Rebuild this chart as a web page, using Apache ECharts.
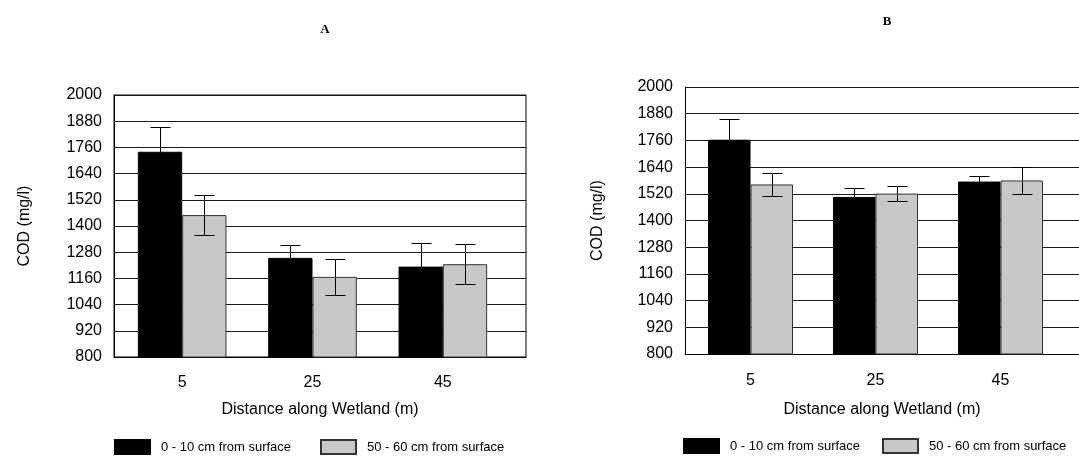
<!DOCTYPE html>
<html>
<head>
<meta charset="utf-8">
<script src="https://cdn.jsdelivr.net/npm/echarts@6/dist/echarts.min.js"></script>
<style>
html,body{margin:0;padding:0;background:#fff;}
#chart{width:1079px;height:458px;}
</style>
</head>
<body>
<div id="chart"></div>
<script>
const categories = ['5', '25', '45'];
const seriesNames = ['0 - 10 cm from surface', '50 - 60 cm from surface'];
const yTicks = { min: 800, max: 2000, interval: 120 };
// Panel A
const aTop = [1740, 1254, 1214];
const aTopErr = [115, 58, 109];
const aDeep = [1450, 1167, 1225];
const aDeepErr = [90, 81, 92];
// Panel B
const bTop = [1763, 1506, 1575];
const bTopErr = [93, 41, 26];
const bDeep = [1562, 1521, 1580];
const bDeepErr = [52, 32, 61];

const FONT = "'Liberation Sans', Arial, sans-serif";
const GAP = 0.32;

function errData(vals, errs) {
  return vals.map((v, i) => [i, v, errs[i]]);
}
function errRender(side) {
  return function (params, api) {
    const idx = api.value(0), val = api.value(1), err = api.value(2);
    const c = api.coord([idx, val]);
    const catW = api.size([1, 0])[0];
    const bw = catW * (1 - GAP) / 2;
    const x = Math.round(c[0] + side * bw / 2) + 0.5;
    const yt = Math.round(api.coord([idx, val + err])[1]) + 0.5;
    const yb = Math.round(api.coord([idx, val - err])[1]) + 0.5;
    const h = 10;
    const st = { stroke: '#000', lineWidth: 1 };
    return {
      type: 'group',
      children: [
        { type: 'line', shape: { x1: x, y1: yt, x2: x, y2: yb }, style: st },
        { type: 'line', shape: { x1: x - h, y1: yt, x2: x + h, y2: yt }, style: st },
        { type: 'line', shape: { x1: x - h, y1: yb, x2: x + h, y2: yb }, style: st }
      ]
    };
  };
}

const frameY = (show) => ({
  type: 'value', min: yTicks.min, max: yTicks.max, interval: yTicks.interval,
  axisLine: { show: show, lineStyle: { color: '#000', width: 1 } },
  axisTick: { show: false },
  axisLabel: { show: show, color: '#000', fontSize: 16, fontFamily: FONT, margin: 12, formatter: v => String(v) },
  splitLine: { show: show, lineStyle: { color: '#1a1a1a', width: 1 } }
});

const blackStyle = { color: '#000', borderColor: '#000', borderWidth: 1 };
const grayStyle = { color: '#c8c8c8', borderColor: '#333', borderWidth: 1 };

const chart = echarts.init(document.getElementById('chart'), null, { renderer: 'canvas' });
chart.setOption({
  backgroundColor: '#fff',
  animation: false,
  title: [
    { text: 'A', left: 320, top: 18, textAlign: 'center', textStyle: { fontFamily: "'Liberation Serif', 'Times New Roman', serif", fontWeight: 'bold', fontSize: 13, color: '#000' } },
    { text: 'B', left: 882, top: 10, textAlign: 'center', textStyle: { fontFamily: "'Liberation Serif', 'Times New Roman', serif", fontWeight: 'bold', fontSize: 13, color: '#000' } }
  ],
  legend: [
    { data: [seriesNames[0]], left: 114, top: 439 },
    { data: [seriesNames[1]], left: 320, top: 439 },
    { data: [seriesNames[0]], left: 683, top: 438 },
    { data: [seriesNames[1]], left: 882, top: 438 }
  ].map(l => Object.assign({
    padding: 0, itemWidth: 35, itemHeight: 14, icon: 'rect', selectedMode: false,
    textStyle: { fontSize: 13, fontFamily: FONT, color: '#000', padding: [0, 0, 0, 6] }
  }, l)),
  grid: [
    { left: 114, top: 95, width: 412, height: 262, show: true, borderColor: '#000', borderWidth: 1, backgroundColor: 'transparent' },
    { left: 117, top: 95, width: 391, height: 262 },
    { left: 685, top: 87, width: 394, height: 267 },
    { left: 688, top: 87, width: 375, height: 267 }
  ],
  xAxis: [
    { gridIndex: 0, type: 'value', min: 0, max: 1, axisLine: { show: true, lineStyle: { color: '#000' } }, axisTick: { show: false }, axisLabel: { show: false }, splitLine: { show: false },
      name: 'Distance along Wetland (m)', nameLocation: 'middle', nameGap: 45, nameTextStyle: { fontSize: 16, fontFamily: FONT, color: '#000' } },
    { gridIndex: 1, type: 'category', data: categories, axisLine: { show: false }, axisTick: { show: false }, axisLabel: { color: '#000', fontSize: 16, fontFamily: FONT, margin: 18 } },
    { gridIndex: 2, type: 'value', min: 0, max: 1, axisLine: { show: true, lineStyle: { color: '#000' } }, axisTick: { show: false }, axisLabel: { show: false }, splitLine: { show: false },
      name: 'Distance along Wetland (m)', nameLocation: 'middle', nameGap: 48, nameTextStyle: { fontSize: 16, fontFamily: FONT, color: '#000' } },
    { gridIndex: 3, type: 'category', data: categories, axisLine: { show: false }, axisTick: { show: false }, axisLabel: { color: '#000', fontSize: 16, fontFamily: FONT, margin: 19 } }
  ],
  yAxis: [
    Object.assign(frameY(true), { gridIndex: 0, name: 'COD (mg/l)', nameLocation: 'middle', nameRotate: 90, nameGap: 81, nameTextStyle: { fontSize: 16, fontFamily: FONT, color: '#000' } }),
    Object.assign(frameY(false), { gridIndex: 1 }),
    Object.assign(frameY(true), { gridIndex: 2, name: 'COD (mg/l)', nameLocation: 'middle', nameRotate: 90, nameGap: 79, nameTextStyle: { fontSize: 16, fontFamily: FONT, color: '#000' } }),
    Object.assign(frameY(false), { gridIndex: 3 })
  ],
  series: [
    { name: seriesNames[0], type: 'bar', xAxisIndex: 1, yAxisIndex: 1, data: aTop, itemStyle: blackStyle, barGap: '0%', barCategoryGap: (GAP * 100) + '%' },
    { name: seriesNames[1], type: 'bar', xAxisIndex: 1, yAxisIndex: 1, data: aDeep, itemStyle: grayStyle, barGap: '0%', barCategoryGap: (GAP * 100) + '%' },
    { name: seriesNames[0], type: 'bar', xAxisIndex: 3, yAxisIndex: 3, data: bTop, itemStyle: blackStyle, barGap: '0%', barCategoryGap: (GAP * 100) + '%' },
    { name: seriesNames[1], type: 'bar', xAxisIndex: 3, yAxisIndex: 3, data: bDeep, itemStyle: grayStyle, barGap: '0%', barCategoryGap: (GAP * 100) + '%' },
    { type: 'custom', xAxisIndex: 1, yAxisIndex: 1, data: errData(aTop, aTopErr), renderItem: errRender(-1), z: 5, encode: { x: 0, y: 1 } },
    { type: 'custom', xAxisIndex: 1, yAxisIndex: 1, data: errData(aDeep, aDeepErr), renderItem: errRender(1), z: 5, encode: { x: 0, y: 1 } },
    { type: 'custom', xAxisIndex: 3, yAxisIndex: 3, data: errData(bTop, bTopErr), renderItem: errRender(-1), z: 5, encode: { x: 0, y: 1 } },
    { type: 'custom', xAxisIndex: 3, yAxisIndex: 3, data: errData(bDeep, bDeepErr), renderItem: errRender(1), z: 5, encode: { x: 0, y: 1 } }
  ]
});
</script>
</body>
</html>
